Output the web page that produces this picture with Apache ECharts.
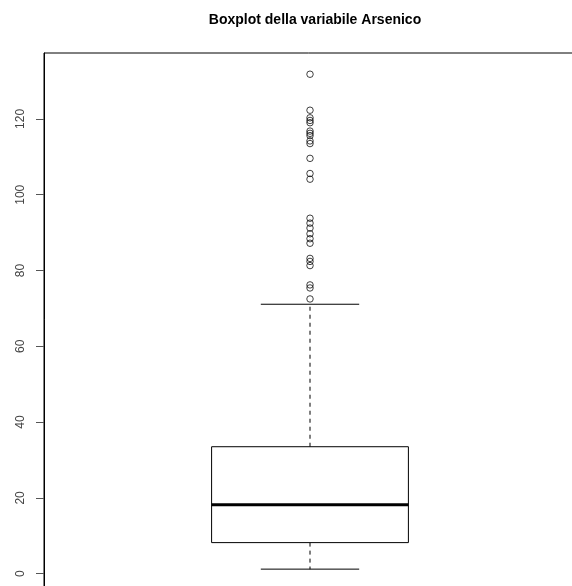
<!DOCTYPE html>
<html>
<head>
<meta charset="utf-8">
<script src="https://cdn.jsdelivr.net/npm/echarts@6/dist/echarts.min.js"></script>
<style>html,body{margin:0;padding:0;background:#fff}#c{width:572px;height:586px}</style>
</head>
<body>
<div id="c"></div>
<script>
// Data
var variableName = 'Arsenico';
// [lower whisker, Q1, median, Q3, upper whisker]
var boxStats = [1.2, 8.2, 18.2, 33.5, 71.1];
var outliers = [131.8, 122.3, 120.3, 119.6, 119.0, 116.8, 116.2, 115.6, 114.2, 113.5,
                109.6, 105.6, 104.1, 93.8, 92.5, 91.2, 89.7, 88.4, 87.2,
                83.2, 82.4, 81.3, 76.2, 75.4, 72.5];
var yTicks = [0, 20, 40, 60, 80, 100, 120];

var chart = echarts.init(document.getElementById('c'), null, {renderer: 'canvas'});
var BOX_HALF = 0.4, CAP_HALF = 0.2;

chart.setOption({
  animation: false,
  backgroundColor: '#fff',
  title: {
    text: 'Boxplot della variabile ' + variableName,
    left: 310, top: 8, textAlign: 'center',
    textStyle: {fontFamily: 'Liberation Sans, Arial, sans-serif', fontSize: 14, fontWeight: 'bold', color: '#000'}
  },
  grid: {left: 44, top: 53, width: 532, height: 536.6, outerBoundsMode: 'none', containLabel: false,
         show: true, borderColor: '#000', borderWidth: 1, backgroundColor: 'transparent'},
  xAxis: {type: 'value', min: -0.0813, max: 2.0813, show: false},
  yAxis: {
    type: 'value', min: -4.2, max: 137.4,
    axisLine: {show: true, onZero: false, lineStyle: {color: '#000', width: 1}},
    axisTick: {show: true, inside: false, length: 8, customValues: yTicks, lineStyle: {color: '#555'}},
    axisLabel: {show: true, rotate: 90, margin: 17, customValues: yTicks, color: '#444',
                fontFamily: 'Liberation Sans, Arial, sans-serif', fontSize: 12},
    splitLine: {show: false}
  },
  series: [
    {
      type: 'custom',
      data: [[1].concat(boxStats)],
      renderItem: function (params, api) {
        var x = api.value(0);
        var lo = api.value(1), q1 = api.value(2), med = api.value(3), q3 = api.value(4), hi = api.value(5);
        var tl = api.coord([x - BOX_HALF, q3]);
        var br = api.coord([x + BOX_HALF, q1]);
        var mL = api.coord([x - BOX_HALF, med]), mR = api.coord([x + BOX_HALF, med]);
        var c = api.coord([x, q3]), cHi = api.coord([x, hi]);
        var c1 = api.coord([x, q1]), cLo = api.coord([x, lo]);
        var capHiL = api.coord([x - CAP_HALF, hi]), capHiR = api.coord([x + CAP_HALF, hi]);
        var capLoL = api.coord([x - CAP_HALF, lo]), capLoR = api.coord([x + CAP_HALF, lo]);
        var ls = {stroke: '#000', lineWidth: 1, fill: null};
        return {
          type: 'group',
          children: [
            {type: 'line', shape: {x1: c[0], y1: c[1], x2: cHi[0], y2: cHi[1]}, style: {stroke: '#000', lineWidth: 1, lineDash: [4, 4]}},
            {type: 'line', shape: {x1: c1[0], y1: c1[1], x2: cLo[0], y2: cLo[1]}, style: {stroke: '#000', lineWidth: 1, lineDash: [4, 4]}},
            {type: 'line', shape: {x1: capHiL[0], y1: capHiL[1], x2: capHiR[0], y2: capHiR[1]}, style: ls},
            {type: 'line', shape: {x1: capLoL[0], y1: capLoL[1], x2: capLoR[0], y2: capLoR[1]}, style: ls},
            {type: 'rect', shape: {x: tl[0], y: tl[1], width: br[0] - tl[0], height: br[1] - tl[1]}, style: {stroke: '#000', lineWidth: 1, fill: '#fff'}},
            {type: 'line', shape: {x1: mL[0], y1: mL[1], x2: mR[0], y2: mR[1]}, style: {stroke: '#000', lineWidth: 3}}
          ]
        };
      }
    },
    {
      type: 'scatter',
      data: outliers.map(function (v) { return [1, v]; }),
      symbol: 'circle',
      symbolSize: 6.5,
      itemStyle: {color: 'rgba(255,255,255,0)', borderColor: '#111', borderWidth: 1}
    }
  ]
});
</script>
</body>
</html>
